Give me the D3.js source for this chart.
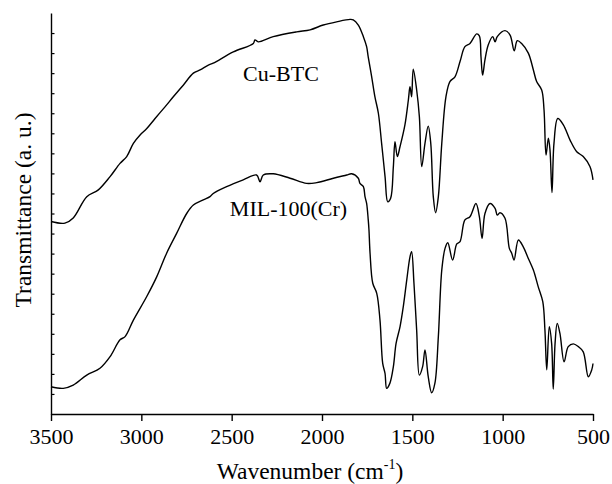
<!DOCTYPE html>
<html>
<head>
<meta charset="utf-8">
<script src="https://cdn.jsdelivr.net/npm/d3@7/dist/d3.min.js"></script>
<style>
  html, body { margin: 0; padding: 0; background: #fff; }
  svg { display: block; }
  text { font-family: "Liberation Serif", "Times New Roman", serif; fill: #000; }
</style>
</head>
<body>
<svg id="chart" width="612" height="484"></svg>
<script>
// ---- data ----
const xTickValues = [3500, 3000, 2500, 2000, 1500, 1000, 500];
const yTickValues = [5,10,15,20,25,30,35,40,45,50,55,60,65,70,75,80,85,90,95];

const cuWave = [3500,3423,3377,3302,3238,3173,3118,3081,3044,3007,2970,2924,2869,2823,2768,2712,2675,2629,2602,2491,2380,2371,2353,2270,2140,2066,1993,1919,1845,1827,1799,1771,1753,1744,1725,1707,1688,1670,1651,1636,1620,1605,1596,1583,1568,1541,1522,1513,1504,1495,1476,1461,1448,1430,1412,1398,1384,1371,1356,1337,1314,1292,1264,1236,1209,1181,1144,1129,1120,1111,1098,1080,1055,1042,1030,987,959,936,919,895,858,830,812,784,771,760,747,738,727,716,695,664,627,590,554,517,500];
const cuT = [48.0,47.6,48.9,54.2,55.9,59.2,62.5,64.2,67.5,69.6,71.2,73.7,76.6,79.1,82.0,85.0,85.8,87.0,87.5,90.3,92.4,93.3,92.8,94.1,95.3,95.8,97.0,97.8,98.4,98.3,97.0,94.1,91.6,89.0,84.1,79.1,75.0,67.5,59.2,52.9,53.8,61.7,67.9,64.2,66.7,72.1,78.3,81.6,79.1,86.0,80.8,74.1,61.7,67.5,71.8,67.5,54.2,50.2,54.2,67.5,79.1,82.9,84.1,87.9,91.6,92.4,94.8,94.3,89.1,84.5,88.3,92.0,94.1,92.8,94.1,95.6,94.5,90.6,93.1,92.4,90.0,85.8,82.9,80.8,75.8,64.6,68.8,65.8,55.2,67.5,73.7,72.1,68.3,65.4,64.2,61.7,58.4];

const milWave = [3500,3432,3377,3302,3229,3173,3118,3090,3044,2970,2915,2860,2804,2749,2712,2657,2620,2602,2528,2436,2362,2343,2325,2270,2177,2085,2029,1937,1863,1836,1799,1790,1771,1762,1753,1744,1740,1734,1719,1697,1679,1664,1651,1642,1624,1605,1590,1568,1550,1531,1513,1504,1491,1476,1461,1443,1430,1412,1393,1375,1356,1337,1319,1304,1277,1254,1236,1209,1181,1148,1129,1114,1098,1070,1042,1030,1015,987,963,950,937,913,886,858,830,803,778,766,756,742,729,720,710,698,683,660,637,609,581,554,526,507,500];
const milT = [6.8,6.4,7.2,9.7,11.4,14.3,18.5,19.3,23.4,29.3,34.2,40.1,45.1,50.0,52.1,53.4,54.2,55.0,56.7,58.4,59.6,57.9,59.6,59.9,58.8,57.5,57.7,58.8,59.6,59.9,58.8,57.5,56.7,54.2,52.5,48.4,45.9,40.1,32.6,30.1,23.4,12.6,10.1,6.4,7.7,11.8,17.6,21.8,26.8,33.4,39.2,40.5,32.6,20.9,9.7,11.8,16.0,9.3,5.3,7.7,19.3,35.9,41.3,42.7,38.4,42.4,43.0,48.4,49.2,52.5,49.2,43.8,50.0,52.5,51.3,49.6,50.2,48.8,41.3,40.1,38.4,43.4,41.7,38.8,35.9,31.7,28.0,20.9,11.0,21.8,17.6,6.2,17.6,22.6,20.1,13.0,16.8,17.5,16.8,15.5,9.3,11.0,12.6];

const seriesLabels = ["Cu-BTC", "MIL-100(Cr)"];
const xTitle = "Wavenumber (cm";
const yTitle = "Transmittance (a. u.)";

// ---- layout ----
const svg = d3.select("#chart");
const x = d3.scaleLinear().domain([3500, 500]).range([51, 593]);
const y = d3.scaleLinear().domain([0, 100]).range([414, 13]);

// x axis
const xAxis = d3.axisBottom(x).tickValues(xTickValues).tickSize(7).tickSizeOuter(0).tickPadding(7).tickFormat(d3.format("d"));
const gx = svg.append("g").attr("transform", `translate(0,${y(0)})`).call(xAxis);
gx.select(".domain").attr("stroke", "#000").attr("stroke-width", 1.4);
gx.selectAll(".tick line").attr("stroke", "#000").attr("stroke-width", 1.4);
gx.selectAll(".tick text").attr("font-size", 22).attr("font-family", "Liberation Serif").attr("dy", "0.72em");

// y axis (ticks pointing inward, no labels)
const yAxis = d3.axisLeft(y).tickValues(yTickValues).tickSize(-3.5).tickSizeOuter(0).tickFormat("");
const gy = svg.append("g").attr("transform", `translate(${x(3500)},0)`).call(yAxis);
gy.select(".domain").attr("stroke", "#000").attr("stroke-width", 1.4);
gy.selectAll(".tick line").attr("stroke", "#000").attr("stroke-width", 1.2);

// curves
const line = d3.line()
  .x(d => x(d[0]))
  .y(d => y(d[1]))
  .curve(d3.curveCatmullRom.alpha(0.5));

const cuData = cuWave.map((w, i) => [w, cuT[i]]);
const milData = milWave.map((w, i) => [w, milT[i]]);

[cuData, milData].forEach(data => {
  svg.append("path")
    .datum(data)
    .attr("fill", "none")
    .attr("stroke", "#000")
    .attr("stroke-width", 1.4)
    .attr("stroke-linejoin", "round")
    .attr("d", line);
});

// series labels
svg.append("text").attr("x", x(2437)).attr("y", y(83)).attr("font-size", 22).text(seriesLabels[0]);
svg.append("text").attr("x", x(2510)).attr("y", y(49.4)).attr("font-size", 22).text(seriesLabels[1]);

// axis titles
const xt = svg.append("text").attr("x", 310).attr("y", 479).attr("text-anchor", "middle").attr("font-size", 23.5);
xt.append("tspan").text(xTitle);
xt.append("tspan").attr("font-size", 14).attr("dy", -10).text("-1");
xt.append("tspan").attr("dy", 10).text(")");

svg.append("text")
  .attr("transform", "translate(31,210) rotate(-90)")
  .attr("text-anchor", "middle")
  .attr("font-size", 23.5)
  .text(yTitle);
</script>
</body>
</html>
